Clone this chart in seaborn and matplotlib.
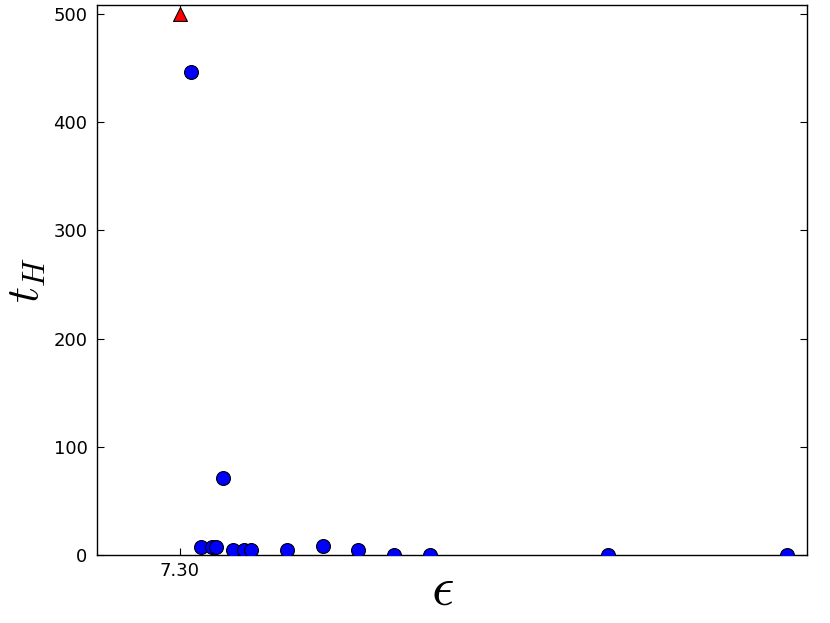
import matplotlib
matplotlib.use("Agg")
import matplotlib.pyplot as plt
import seaborn as sns
import pandas as pd

# stable runs (blue circles) and the one that never settled (red triangle)
eps_vals = [7.303, 7.306, 7.309, 7.310, 7.312, 7.315, 7.318, 7.320,
            7.330, 7.340, 7.350, 7.360, 7.370, 7.420, 7.470]
t_h_vals = [446, 7.4, 7.2, 7.2, 71, 4.6, 4.6, 4.6,
            4.6, 8.0, 4.5, 0.5, 0.5, 0.3, 0.3]
eps_cap = [7.30]
t_h_cap = [500]

df = pd.DataFrame({"eps": eps_vals, "t_h": t_h_vals})
df_cap = pd.DataFrame({"eps": eps_cap, "t_h": t_h_cap})

sns.set_style("ticks")
plt.rcParams.update({
    "font.family": ["DejaVu Sans"],
    "mathtext.fontset": "cm",
    "text.color": "black", "axes.labelcolor": "black",
    "xtick.color": "black", "ytick.color": "black",
    "xtick.direction": "in", "ytick.direction": "in",
    "xtick.top": True, "ytick.right": True,
    "axes.edgecolor": "black", "axes.linewidth": 1.0,
})

fig = plt.figure(figsize=(8.3, 6.23), dpi=100)
ax = fig.add_axes([0.117, 0.109, 0.855, 0.883])

sns.scatterplot(data=df, x="eps", y="t_h", ax=ax, color="b",
                edgecolor="black", linewidth=0.8, s=100, marker="o", zorder=3)
sns.scatterplot(data=df_cap, x="eps", y="t_h", ax=ax, color="r",
                edgecolor="black", linewidth=0.8, s=100, marker="^", zorder=3,
                clip_on=False)

ax.set_xlim(7.2768, 7.4756)
ax.set_ylim(0, 508)
ax.set_xticks([7.30])
ax.set_xticklabels(["7.30"])
ax.set_yticks([0, 100, 200, 300, 400, 500])
ax.tick_params(labelsize=13, length=5, width=0.8)
ax.tick_params(axis="x", pad=5)
ax.tick_params(axis="y", pad=7)

ax.set_xlabel(r"$\epsilon$", fontsize=40, va="center")
ax.xaxis.set_label_coords(0.487, -0.062)
ax.set_ylabel(r"$t_H$", fontsize=32, labelpad=4)

fig.savefig("out.png", dpi=100)
